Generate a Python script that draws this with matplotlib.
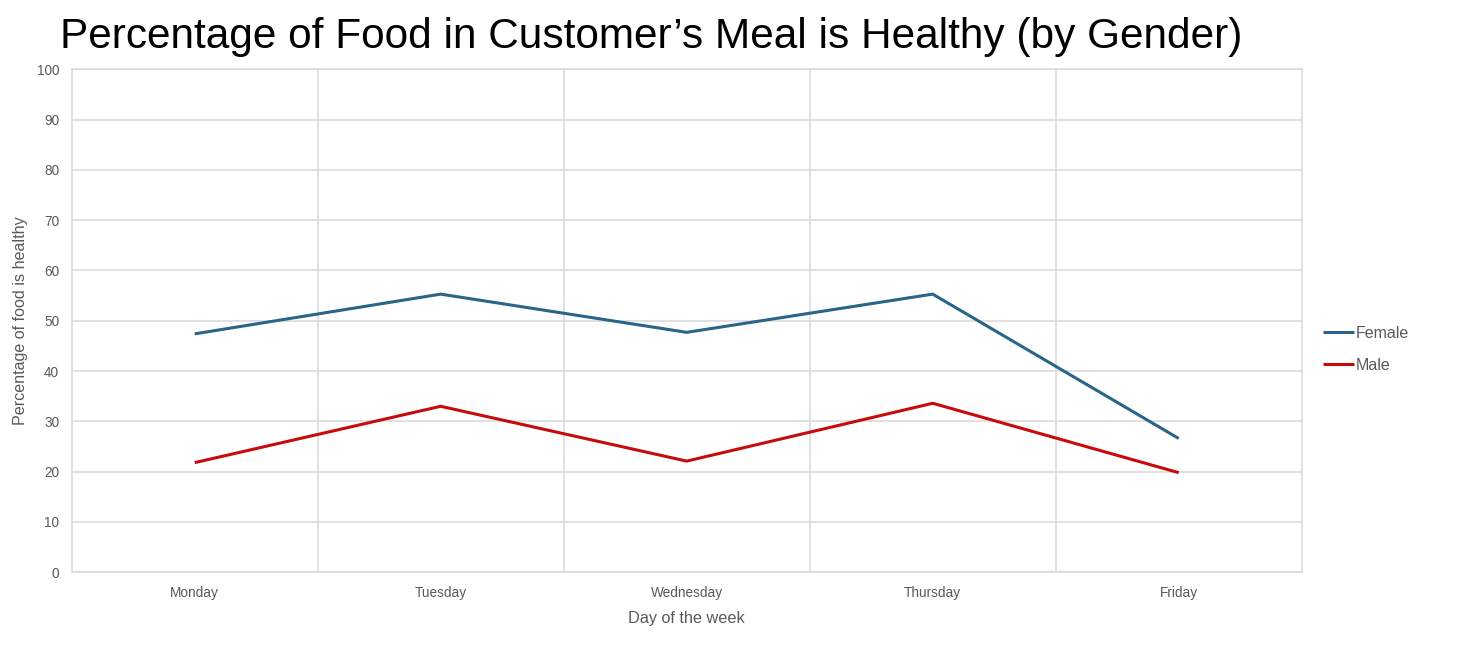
import matplotlib.pyplot as plt

plt.rcParams['font.family'] = ['Liberation Sans', 'DejaVu Sans']

# data
days = ['Monday', 'Tuesday', 'Wednesday', 'Thursday', 'Friday']
female = [47.4, 55.3, 47.7, 55.3, 26.6]
male = [21.8, 33.0, 22.1, 33.6, 19.8]
yticks = [0, 10, 20, 30, 40, 50, 60, 70, 80, 90, 100]

fig = plt.figure(figsize=(14.6, 6.55), dpi=100)
ax = fig.add_axes([0.0491, 0.1263, 0.8425, 0.7679])

x = list(range(len(days)))
ax.plot(x, female, color='#2a6489', linewidth=2.2, label='Female', solid_capstyle='butt')
ax.plot(x, male, color='#c80a0a', linewidth=2.2, label='Male', solid_capstyle='butt')

ax.set_xlim(-0.5, len(days) - 0.5)
ax.set_ylim(0, 100)
ax.set_yticks(yticks)
ax.set_xticks(x)
ax.set_xticklabels(days)

# gridlines between categories, like the spreadsheet chart
ax.set_xticks([i + 0.5 for i in range(len(days) - 1)], minor=True)
ax.grid(True, which='minor', axis='x', color='#d9d9d9', linewidth=1.1)
ax.grid(True, which='major', axis='y', color='#d9d9d9', linewidth=1.1)
ax.set_axisbelow(True)
for s in ax.spines.values():
    s.set_color('#d9d9d9')
    s.set_linewidth(1.1)

ax.tick_params(axis='both', which='both', length=0, labelsize=9.8, colors='#595959')
ax.tick_params(axis='x', pad=10)
ax.tick_params(axis='y', pad=9)

ax.set_xlabel('Day of the week', fontsize=11.7, color='#595959', labelpad=8)
ax.set_ylabel('Percentage of food is healthy', fontsize=11.6, color='#595959', labelpad=6)

fig.text(0.041, 0.944, 'Percentage of Food in Customer\u2019s Meal is Healthy (by Gender)',
         fontsize=30.5, ha='left', va='center', color='black')

leg = ax.legend(loc='center left', bbox_to_anchor=(1.006, 0.443), frameon=False,
                fontsize=11.5, handlelength=1.9, handletextpad=0.1, labelspacing=1.05)
for t in leg.get_texts():
    t.set_color('#595959')

fig.savefig('out.png', dpi=100)
